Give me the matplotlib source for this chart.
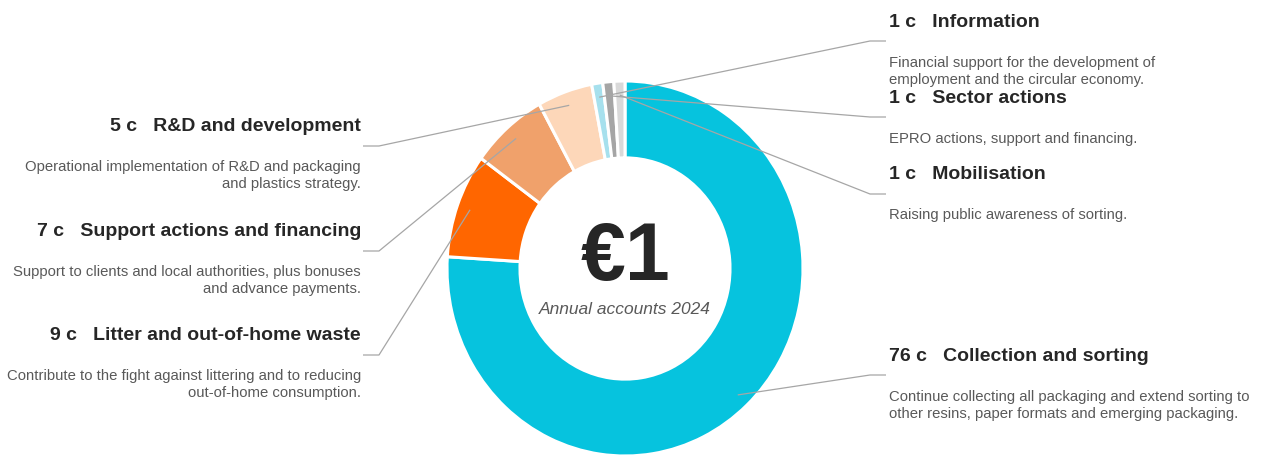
import matplotlib.pyplot as plt
import numpy as np

plt.rcParams['font.family'] = ['Liberation Sans', 'DejaVu Sans']

# data: cents of each euro, clockwise from the top
amounts = [76, 9, 7, 5, 1, 1, 1]
titles = ["Collection and sorting", "Litter and out-of-home waste",
          "Support actions and financing", "R&D and development",
          "Information", "Sector actions", "Mobilisation"]
descriptions = [
    ["Continue collecting all packaging and extend sorting to",
     "other resins, paper formats and emerging packaging."],
    ["Contribute to the fight against littering and to reducing",
     "out-of-home consumption."],
    ["Support to clients and local authorities, plus bonuses",
     "and advance payments."],
    ["Operational implementation of R&D and packaging",
     "and plastics strategy."],
    ["Financial support for the development of",
     "employment and the circular economy."],
    ["EPRO actions, support and financing."],
    ["Raising public awareness of sorting."],
]
colors = ["#06C3DE", "#FF6600", "#F0A16B", "#FDD7B9", "#A6E0ED", "#A5A5A5", "#D9D9D9"]

# label layout (pixels): side, heading baseline, elbow y
sides = ["right", "left", "left", "left", "right", "right", "right"]
head_y = [361, 340, 236, 131, 27, 103, 179]
elbow_y = [376, 356, 252, 147, 42, 118, 195]

W, H = 1263, 456
fig = plt.figure(figsize=(W / 100, H / 100), dpi=100)

# donut is slightly stretched vertically in the reference
cx, cy, rx, ry = 625, 269.5, 178, 187.5
pax = fig.add_axes([(cx - rx) / W, (H - cy - ry) / H, 2 * rx / W, 2 * ry / H])
wedges, _ = pax.pie(amounts, colors=colors, startangle=90, counterclock=False,
                    radius=1, wedgeprops=dict(width=0.41, edgecolor='white', linewidth=2.2))
pax.set_aspect('auto')
pax.set_xlim(-1, 1)
pax.set_ylim(-1, 1)
pax.axis('off')

ax = fig.add_axes([0, 0, 1, 1])
ax.set_xlim(0, W)
ax.set_ylim(H, 0)
ax.axis('off')
ax.patch.set_alpha(0)

fig.canvas.draw()
for w, amt, title, desc, side, hy, ey in zip(wedges, amounts, titles, descriptions,
                                            sides, head_y, elbow_y):
    mid = np.deg2rad((w.theta1 + w.theta2) / 2)
    disp = pax.transData.transform((0.925 * np.cos(mid), 0.925 * np.sin(mid)))
    ax_pt = ax.transData.inverted().transform(disp)
    if side == "left":
        ex, hx, tx, ha = 379, 363, 361, 'right'
    else:
        ex, hx, tx, ha = 870, 886, 889, 'left'
    ax.plot([ax_pt[0], ex, hx], [ax_pt[1], ey, ey], color="#A6A6A6", lw=0.9,
            solid_capstyle='butt')
    ax.text(tx, hy, f"{amt} c   {title}", ha=ha, va='baseline', fontsize=14,
            fontweight='bold', color="#262626")
    for i, line in enumerate(desc):
        ax.text(tx, hy + 40 + i * 17.3, line, ha=ha, va='baseline', fontsize=10.7,
                color="#595959")

ax.text(cx, 280, "€1", ha='center', va='baseline', fontsize=58, fontweight='bold',
        color="#262626")
ax.text(cx, 314, "Annual accounts 2024", ha='center', va='baseline', fontsize=12.5,
        style='italic', color="#595959")

fig.savefig("out.png", dpi=100)
